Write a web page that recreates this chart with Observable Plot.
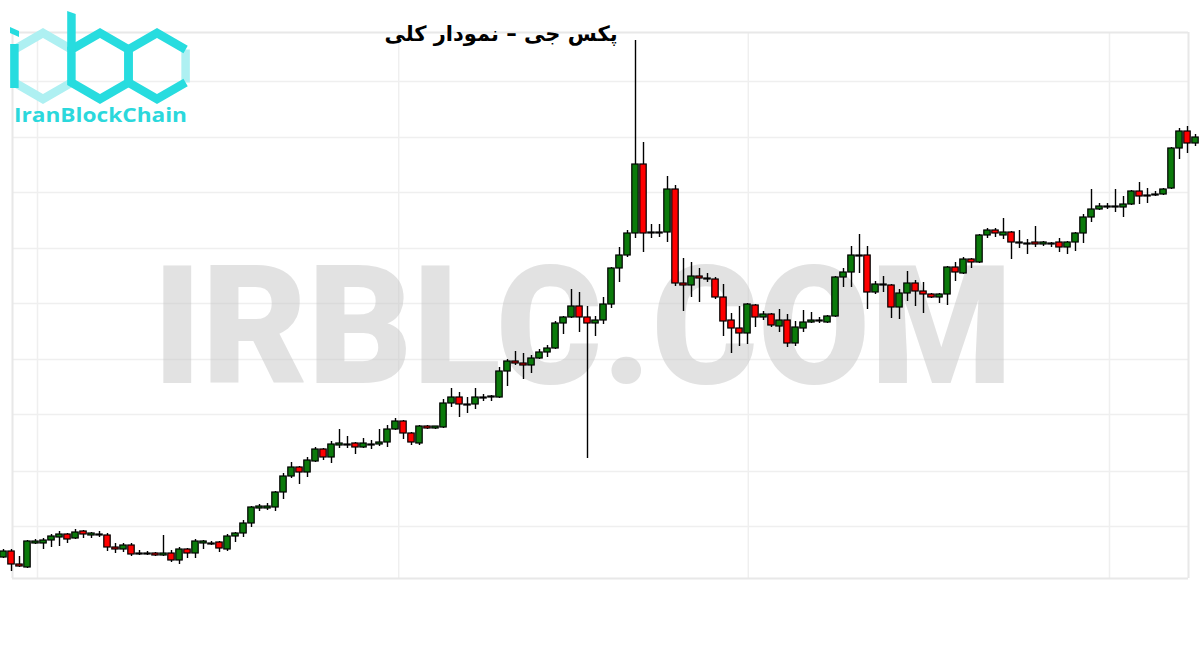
<!DOCTYPE html>
<html><head><meta charset="utf-8">
<script src="https://cdn.jsdelivr.net/npm/d3@7"></script>
<script src="https://cdn.jsdelivr.net/npm/@observablehq/plot@0.6"></script>
<style>
html,body{margin:0;padding:0;background:#fff;}
#wrap{position:relative;width:1200px;height:650px;overflow:hidden;background:#fff;}
#chart{position:absolute;left:0;top:0;}
#logo{position:absolute;left:0;top:0;}
#title{position:absolute;left:360px;top:22px;width:282px;text-align:center;direction:rtl;font:bold 21px "DejaVu Sans",sans-serif;color:#000;white-space:nowrap;}
</style></head><body>
<div id="wrap">
<div id="chart"></div>
<svg id="logo" width="200" height="130" viewBox="0 0 200 130">
  <g fill="none" stroke-width="8.5" stroke-linejoin="miter" stroke-linecap="butt">
    <polyline points="14.4,49.5 43,33 71.6,49.5" stroke="#aef0f2"/>
    <polyline points="14.4,82.5 43,99 71.6,82.5" stroke="#aef0f2"/>
    <polyline points="185.6,49.5 185.6,82.5" stroke="#aef0f2"/>
    <line x1="14.4" y1="44" x2="14.4" y2="88" stroke="#27dcdf"/>
    <polygon points="71.4,49.5 100,33 128.6,49.5 128.6,82.5 100,99 71.4,82.5" stroke="#27dcdf"/>
    <polyline points="185.6,49.5 157,33 128.4,49.5 128.4,82.5 157,99 185.6,82.5" stroke="#27dcdf"/>
  </g>
  <polygon points="67.2,11 75.7,14 75.7,50 67.2,50" fill="#27dcdf"/>
  <polygon points="10,27 19,31 19,37 10,33" fill="#27dcdf"/>
  <text x="14" y="122" textLength="173" lengthAdjust="spacingAndGlyphs" font-family="'Open Sans',sans-serif" font-weight="700" font-size="19" fill="#2bd8dc">IranBlockChain</text>
</svg>
<div id="title">پکس جی – نمودار کلی</div>
</div>
<script>
// OHLC prices, one entry per candle
const open = [1443,1449,1436,1433,1457,1457,1460,1463,1466,1462,1469,1465,1465,1465,1453,1451,1455,1446,1446,1447,
1445,1447,1440,1451,1447,1457,1456,1458,1451,1464,1467,1477,1492,1492,1493,1508,1524,1533,1528,1539,
1551,1543,1555,1555,1557,1553,1555,1556,1558,1571,1579,1567,1557,1574,1572,1573,1597,1603,1595,1596,
1602,1603,1603,1629,1639,1637,1635,1642,1648,1652,1677,1683,1694,1683,1677,1680,1696,1732,1745,1767,
1836,1767,1767,1768,1811,1717,1715,1724,1721,1721,1703,1680,1672,1667,1695,1683,1686,1674,1680,1657,
1672,1678,1679,1678,1684,1723,1728,1744,1745,1708,1715,1715,1693,1707,1717,1709,1706,1703,1706,1733,
1727,1741,1738,1765,1770,1765,1768,1757,1756,1758,1756,1756,1758,1753,1758,1767,1783,1791,1793,1793,
1793,1796,1809,1804,1805,1806,1812,1852,1869,1857];
const high = [1451,1451,1444,1460,1461,1462,1466,1469,1467,1471,1470,1468,1469,1467,1457,1457,1457,1450,1449,1448,
1465,1450,1453,1452,1461,1460,1459,1459,1466,1468,1480,1494,1496,1497,1509,1527,1538,1534,1543,1553,
1552,1559,1571,1564,1558,1562,1560,1571,1575,1582,1580,1568,1575,1575,1574,1601,1612,1608,1603,1612,
1606,1605,1633,1641,1649,1647,1645,1651,1655,1679,1684,1711,1708,1694,1684,1703,1733,1753,1770,1960,
1858,1776,1776,1824,1815,1742,1738,1732,1727,1723,1716,1687,1694,1697,1696,1689,1687,1691,1686,1679,
1690,1688,1683,1685,1724,1732,1754,1766,1754,1719,1724,1716,1711,1729,1720,1718,1707,1707,1734,1738,
1743,1742,1766,1772,1772,1782,1769,1770,1761,1774,1759,1758,1762,1759,1768,1786,1811,1797,1797,1811,
1804,1810,1818,1812,1809,1812,1853,1872,1874,1866];
const low = [1442,1429,1433,1432,1456,1451,1453,1454,1457,1461,1462,1462,1463,1449,1447,1448,1444,1445,1445,1444,
1444,1438,1436,1442,1442,1451,1455,1448,1449,1458,1463,1473,1489,1490,1489,1501,1522,1516,1523,1538,
1540,1537,1552,1552,1546,1552,1551,1554,1553,1570,1561,1555,1555,1571,1571,1572,1593,1583,1587,1591,
1599,1599,1602,1614,1635,1621,1627,1641,1643,1651,1666,1682,1668,1542,1664,1676,1692,1718,1743,1762,
1748,1762,1763,1758,1714,1689,1703,1698,1718,1701,1664,1647,1654,1656,1673,1680,1673,1668,1653,1654,
1668,1677,1677,1677,1683,1713,1713,1727,1691,1706,1708,1682,1681,1699,1694,1687,1702,1697,1695,1719,
1726,1732,1737,1762,1763,1761,1741,1752,1746,1753,1754,1753,1748,1746,1749,1757,1778,1790,1791,1788,
1783,1795,1796,1797,1804,1805,1811,1841,1847,1854];
const close = [1449,1436,1434,1459,1459,1460,1464,1466,1461,1468,1466,1467,1466,1453,1451,1455,1446,1447,1447,1445,
1447,1440,1451,1447,1459,1459,1457,1452,1464,1467,1477,1493,1494,1494,1508,1524,1533,1528,1540,1551,
1543,1556,1557,1556,1553,1557,1556,1558,1571,1579,1567,1558,1574,1572,1574,1597,1603,1596,1596,1603,
1603,1604,1629,1639,1637,1635,1642,1648,1652,1677,1683,1694,1683,1677,1680,1696,1732,1745,1767,1836,
1767,1768,1768,1811,1717,1715,1724,1722,1722,1703,1679,1672,1667,1696,1683,1686,1675,1680,1657,1673,
1678,1680,1680,1684,1723,1728,1745,1745,1708,1716,1716,1693,1707,1717,1709,1706,1703,1706,1733,1728,
1741,1738,1765,1770,1767,1768,1758,1758,1757,1756,1758,1757,1753,1758,1767,1783,1791,1794,1794,1794,
1796,1809,1804,1805,1806,1811,1852,1869,1857,1863];

// faint grid (price levels and candle positions) and chart border
const gridPrices = [1919,1863,1808,1752,1697,1641,1586,1529,1474];
const gridIndex = [4.25, 49.4, 93.1, 138.25];
const frameIndex = [1.125, 148.125];
const framePrices = [1422, 1968];
const watermark = {label: "IRBLC.COM", index: 72.4, price: 1670};

const candles = open.map((o, i) => ({i, open: o, high: high[i], low: low[i], close: close[i]}));

const chart = Plot.plot({
  width: 1200, height: 650,
  marginTop: 0, marginRight: 0, marginBottom: 0, marginLeft: 0,
  x: {domain: [0, 149], range: [3, 1195], axis: null},
  y: {domain: [1350, 2000], range: [650, 0], axis: null},
  color: {type: "identity"},
  style: {background: "#fff"},
  marks: [
    Plot.ruleY(gridPrices, {x1: frameIndex[0], x2: frameIndex[1], stroke: "#efefef", strokeWidth: 1.5}),
    Plot.ruleX(gridIndex, {y1: framePrices[0], y2: framePrices[1], stroke: "#efefef", strokeWidth: 1.5}),
    Plot.ruleY(framePrices, {x1: frameIndex[0], x2: frameIndex[1], stroke: "#e8e8e8", strokeWidth: 2}),
    Plot.ruleX(frameIndex, {y1: framePrices[0], y2: framePrices[1], stroke: "#e8e8e8", strokeWidth: 2}),
    Plot.text([watermark], {x: "index", y: "price", text: "label", fontSize: 165, fontWeight: 900,
      fontFamily: "Roboto, 'Open Sans', sans-serif", fill: "#c6c6c6", fillOpacity: 0.5}),
    Plot.ruleX(candles, {x: "i", y1: "low", y2: "high", stroke: "#000", strokeWidth: 1.4}),
    Plot.rect(candles, {
      x1: d => d.i - 0.4, x2: d => d.i + 0.4, y1: "open", y2: "close",
      fill: d => d.close >= d.open ? "#0b7a0b" : "#ff0000",
      stroke: "#000", strokeWidth: 1.2
    })
  ]
});
document.getElementById("chart").appendChild(chart);
chart.querySelectorAll("text").forEach(t => {
  if (t.textContent === watermark.label) {
    t.setAttribute("textLength", "860");
    t.setAttribute("lengthAdjust", "spacingAndGlyphs");
  }
});
</script>
</body></html>
